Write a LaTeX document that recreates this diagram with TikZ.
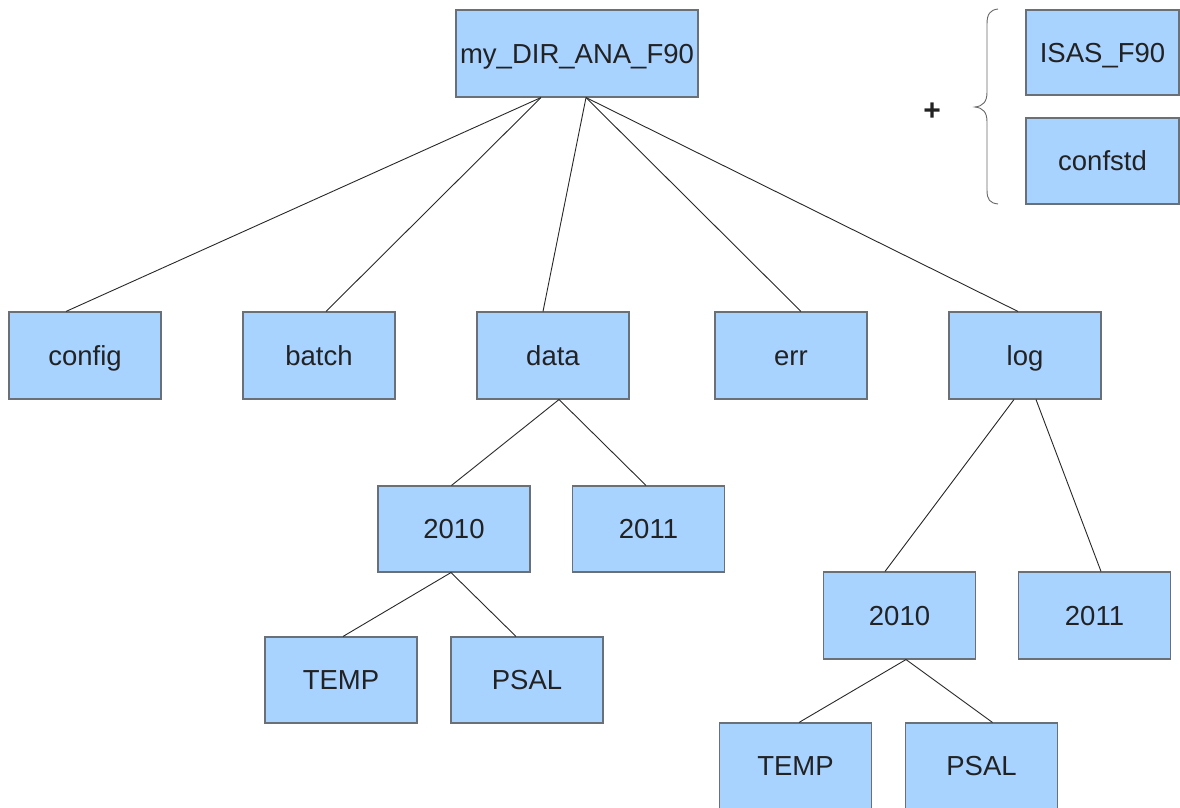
\documentclass[tikz,border=0pt]{standalone}
\usepackage{fontspec}
\setmainfont{Liberation Sans}
\usetikzlibrary{calc}
\definecolor{boxfill}{RGB}{168,210,255}
\definecolor{boxline}{RGB}{105,112,120}
\definecolor{txt}{RGB}{34,34,34}
\definecolor{conn}{RGB}{40,40,40}
\tikzset{
  dirbox/.style={rectangle, draw=boxline, line width=1.1pt, fill=boxfill, text=txt,
    minimum width=152pt, minimum height=87pt, inner sep=0pt,
    text height=19.7pt, text depth=0pt,
    font=\fontsize{27.5}{30}\selectfont},
  link/.style={draw=conn, line width=0.9pt}
}
\begin{document}
\begin{tikzpicture}[x=1pt,y=-1pt]
\useasboundingbox (0,0) rectangle (1180,808);
\clip (0,0) rectangle (1180,808);
% nodes
\node[dirbox, minimum width=242pt] (root) at (577,53.5) {my\_DIR\_ANA\_F90};
\node[dirbox, minimum width=153pt, minimum height=85pt] (isas) at (1102.5,52.5) {ISAS\_F90};
\node[dirbox, minimum width=153pt, minimum height=86pt] (confstd) at (1102.5,161) {confstd};
\node[dirbox] (config) at (85,355.5) {config};
\node[dirbox] (batch) at (319,355.5) {batch};
\node[dirbox] (data) at (553,355.5) {data};
\node[dirbox] (err) at (791,355.5) {err};
\node[dirbox] (log) at (1025,355.5) {log};
\node[dirbox, minimum height=86pt] (d2010) at (454,529) {2010};
\node[dirbox, minimum height=86pt] (d2011) at (648.5,529) {2011};
\node[dirbox, minimum height=86pt] (dtemp) at (341,680) {TEMP};
\node[dirbox, minimum height=86pt] (dpsal) at (527,680) {PSAL};
\node[dirbox, minimum height=87pt] (l2010) at (899.5,615.5) {2010};
\node[dirbox, minimum height=87pt] (l2011) at (1094.5,615.5) {2011};
\node[dirbox, minimum height=86pt] (ltemp) at (795.5,766) {TEMP};
\node[dirbox, minimum height=86pt] (lpsal) at (981.5,766) {PSAL};
% plus and brace
\node[text=txt, font=\bfseries\fontsize{30}{32}\selectfont] (plus) at (932,112) {+};
\draw[draw=conn!70, line width=0.9pt]
  (998,9) .. controls (990,10) and (987,14) .. (987,24)
  -- (987,92) .. controls (987,102) and (983,106) .. (975,107)
  .. controls (983,108) and (987,112) .. (987,122)
  -- (987,190) .. controls (987,200) and (990,203) .. (998,204);
% connectors
\draw[link] ($(root.south)+(-36,0)$) -- ($(config.north)+(-19,0)$);
\draw[link] ($(root.south)+(-36,0)$) -- ($(batch.north)+(7,0)$);
\draw[link] ($(root.south)+(9,0)$) -- ($(data.north)+(-10,0)$);
\draw[link] ($(root.south)+(9,0)$) -- ($(err.north)+(10,0)$);
\draw[link] ($(root.south)+(9,0)$) -- ($(log.north)+(-7,0)$);
\draw[link] ($(data.south)+(6,0)$) -- ($(d2010.north)+(-2.5,0)$);
\draw[link] ($(data.south)+(6,0)$) -- ($(d2011.north)+(-2.5,0)$);
\draw[link] ($(d2010.south)+(-3,0)$) -- ($(dtemp.north)+(2,0)$);
\draw[link] ($(d2010.south)+(-3,0)$) -- ($(dpsal.north)+(-11,0)$);
\draw[link] ($(log.south)+(-11,0)$) -- ($(l2010.north)+(-14.5,0)$);
\draw[link] ($(log.south)+(11,0)$) -- ($(l2011.north)+(6.5,0)$);
\draw[link] ($(l2010.south)+(6.5,0)$) -- ($(ltemp.north)+(3.5,0)$);
\draw[link] ($(l2010.south)+(6.5,0)$) -- ($(lpsal.north)+(11,0)$);
\end{tikzpicture}
\end{document}
